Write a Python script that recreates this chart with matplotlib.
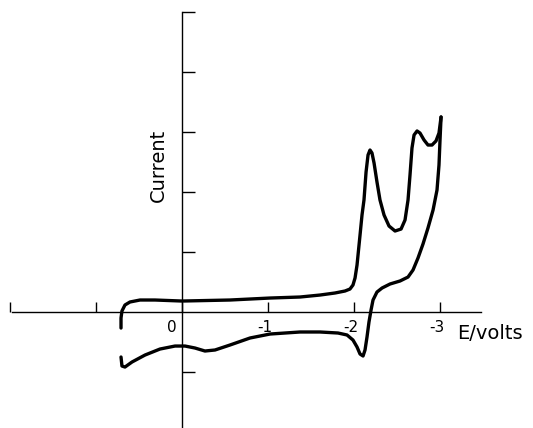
import matplotlib.pyplot as plt

# cyclic voltammogram (E in volts, current in axis units)
fwd_E = [0.709, 0.709, 0.698, 0.663, 0.605, 0.488, 0.314, 0.0, -0.558, -1.023,
         -1.372, -1.605, -1.779, -1.895, -1.953, -1.988, -2.012, -2.035, -2.070,
         -2.093, -2.116, -2.140, -2.163, -2.186, -2.209, -2.233, -2.267, -2.302,
         -2.349, -2.407, -2.477, -2.547, -2.593, -2.628, -2.651, -2.674, -2.698,
         -2.733, -2.767, -2.814, -2.860, -2.907, -2.953, -2.988, -3.012]
fwd_I = [-0.267, -0.1, 0.017, 0.117, 0.167, 0.2, 0.2, 0.183, 0.2, 0.233,
         0.25, 0.283, 0.317, 0.35, 0.383, 0.45, 0.567, 0.783, 1.283,
         1.617, 1.867, 2.333, 2.617, 2.7, 2.65, 2.483, 2.167, 1.867,
         1.617, 1.433, 1.35, 1.383, 1.533, 1.867, 2.283, 2.733, 2.95,
         3.017, 2.983, 2.867, 2.783, 2.783, 2.85, 2.983, 3.25]
rev_E = [-3.012, -3.0, -2.988, -2.965, -2.919, -2.860, -2.802, -2.744, -2.686,
         -2.628, -2.535, -2.419, -2.326, -2.267, -2.221, -2.198, -2.174, -2.151,
         -2.128, -2.105, -2.070, -2.035, -1.988, -1.919, -1.814, -1.605, -1.372,
         -1.023, -0.791, -0.558, -0.384, -0.267, -0.151, -0.035, 0.081, 0.256,
         0.430, 0.581, 0.663, 0.698, 0.709]
rev_I = [3.25, 2.867, 2.45, 2.033, 1.7, 1.4, 1.133, 0.9, 0.7,
         0.583, 0.517, 0.467, 0.4, 0.333, 0.2, 0.033, -0.167, -0.417,
         -0.633, -0.733, -0.7, -0.583, -0.467, -0.383, -0.35, -0.333, -0.333,
         -0.367, -0.433, -0.55, -0.633, -0.65, -0.6, -0.567, -0.567, -0.617,
         -0.717, -0.833, -0.917, -0.9, -0.75]

x_ticks = [2, 1, 0, -1, -2, -3]
x_labels = ['', '', '0', '-1', '-2', '-3']
y_ticks = [-1, 1, 2, 3, 4, 5]

plt.rcParams['font.family'] = ['DejaVu Sans']

fig = plt.figure(figsize=(5.33, 4.28), dpi=100)
ax = fig.add_axes([0, 0, 1, 1])
ax.set_xlim(2.116, -4.081)
ax.set_ylim(-1.933, 5.2)

ax.plot(fwd_E, fwd_I, color='black', lw=2.4, solid_joinstyle='round', solid_capstyle='round')
ax.plot(rev_E, rev_I, color='black', lw=2.4, solid_joinstyle='round', solid_capstyle='round')

for side in ['top', 'right']:
    ax.spines[side].set_visible(False)
ax.spines['left'].set_position(('data', 0))
ax.spines['bottom'].set_position(('data', 0))
ax.spines['left'].set_bounds(-1.93, 5.0)
ax.spines['bottom'].set_bounds(1.977, -3.477)
ax.spines['left'].set_linewidth(1.0)
ax.spines['bottom'].set_linewidth(1.0)

ax.set_xticks(x_ticks)
ax.set_xticklabels([])
ax.set_yticks(y_ticks)
ax.set_yticklabels([])
ax.tick_params(axis='x', direction='in', length=7, width=1.0)
ax.tick_params(axis='y', direction='in', length=9, width=1.0)

for e, lab in zip(x_ticks, x_labels):
    if lab:
        dx = -7 if lab == '0' else -2
        ax.annotate(lab, (e, 0), xytext=(dx, -11), textcoords='offset points',
                    ha='center', va='center', fontsize=11)

ax.text(-3.2, -0.35, 'E/volts', ha='left', va='center', fontsize=14)
ax.text(0.28, 2.45, 'Current', rotation=90, ha='center', va='center', fontsize=14)

fig.savefig('out.png', dpi=100)
